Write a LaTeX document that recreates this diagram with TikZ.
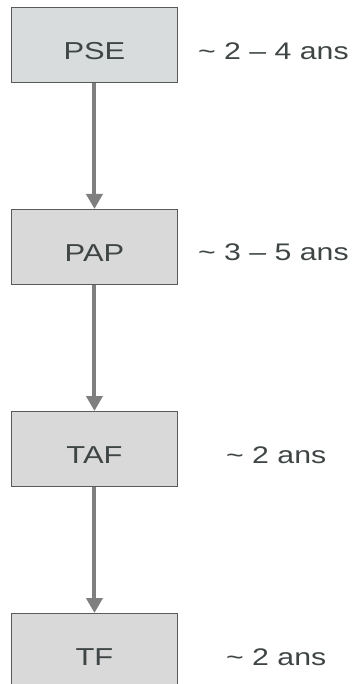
\documentclass[tikz,border=0pt]{standalone}
\usepackage{fontspec}
\setmainfont{Liberation Sans}
\usetikzlibrary{arrows.meta}
\definecolor{boxfill}{HTML}{D9D9D9}
\definecolor{psefill}{HTML}{D9DCDD}
\definecolor{boxline}{HTML}{5A5A5A}
\definecolor{txt}{HTML}{3F4545}
\definecolor{arr}{HTML}{7F7F7F}
\newcommand{\wide}[1]{\scalebox{1.26}[1]{#1}}
\begin{document}
\begin{tikzpicture}[x=1pt,y=-1pt,
  stagebox/.style={draw=boxline,line width=0.9pt,fill=boxfill,minimum width=166pt,minimum height=75pt,inner sep=0pt,anchor=north west,text=txt,font=\fontsize{24.5}{28}\selectfont,text height=30pt,text depth=0pt},
  dur/.style={anchor=base west,text=txt,inner sep=0pt,font=\fontsize{24}{27}\selectfont},
  flow/.style={draw=arr,line width=4pt,-{Triangle[length=15pt,width=16pt]}}]
\useasboundingbox (0,0) rectangle (363,684);
\node[stagebox,fill=psefill] (pse) at (11,7) {\wide{PSE}};
\node[stagebox] (pap) at (11,209) {\wide{PAP}};
\node[stagebox] (taf) at (11,411) {\wide{TAF}};
\node[stagebox] (tf) at (11,613) {\wide{TF}};
\node[dur] (d1) at (198,60) {\wide{\textasciitilde{} 2 – 4 ans}};
\node[dur] (d2) at (198,261) {\wide{\textasciitilde{} 3 – 5 ans}};
\node[dur] (d3) at (226,463) {\wide{\textasciitilde{} 2 ans}};
\node[dur] (d4) at (226,665) {\wide{\textasciitilde{} 2 ans}};
\draw[flow] (pse) -- (pap);
\draw[flow] (pap) -- (taf);
\draw[flow] (taf) -- (tf);
\end{tikzpicture}
\end{document}
